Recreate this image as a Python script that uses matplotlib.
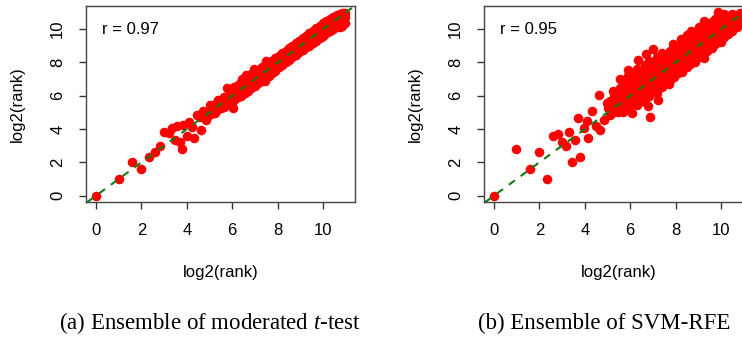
import matplotlib
matplotlib.use("Agg")
import matplotlib.pyplot as plt

plt.rcParams['font.family'] = ['Liberation Sans', 'DejaVu Sans']
plt.rcParams['mathtext.fontset'] = 'custom'
plt.rcParams['mathtext.rm'] = 'Liberation Serif'
plt.rcParams['mathtext.it'] = 'Liberation Serif:italic'

# panel (a): ensemble of moderated t-test, log2 ranks
a_x = [0, 1.0, 1.58, 2.0, 2.32, 2.58, 2.82, 3.0, 3.2, 3.34, 3.58, 3.46, 3.7, 3.81,
       4.0, 4.31, 4.63, 3.84, 4.08, 4.22, 4.46, 4.72, 4.84, 4.57, 5.04, 5.25, 5.37,
       5.63, 5.75, 6.04, 5.89, 6.19, 6.45, 6.63, 6.55, 6.95, 7.14, 7.43, 7.5, 7.73]
a_y = [0, 1.0, 2.0, 1.59, 2.35, 2.6, 3.0, 3.8, 3.76, 4.04, 4.2, 3.36, 3.2, 2.82,
       3.6, 3.46, 3.92, 4.27, 4.4, 4.12, 4.87, 5.07, 4.53, 4.73, 5.47, 4.97, 5.77,
       5.31, 6.48, 5.27, 5.98, 6.28, 6.98, 7.22, 6.48, 7.59, 7.48, 6.88, 8.09, 7.79]
# dense band of panel (a): column x and the y values seen in that column
a_cols = [4.9, 5.05, 5.2, 5.35, 5.5, 5.65, 5.8, 5.95, 6.1, 6.25, 6.4, 6.55, 6.7,
          6.85, 7.0, 7.15, 7.3, 7.45, 7.6, 7.75, 7.9, 8.05, 8.2, 8.35, 8.5, 8.65,
          8.8, 8.95, 9.1, 9.25, 9.4, 9.55, 9.7, 9.85, 10.0, 10.15, 10.3, 10.45,
          10.6, 10.75, 10.85, 10.95]
a_rows = [[4.75, 5.05], [4.9, 5.3], [5.0, 5.45], [5.15, 5.6], [5.25, 5.7],
          [5.4, 5.9], [5.5, 6.0], [5.6, 6.05, 6.35], [5.75, 6.2, 6.5],
          [5.9, 6.3, 6.65], [6.0, 6.45, 6.8], [6.15, 6.6, 7.0], [6.3, 6.75, 7.1],
          [6.45, 6.9, 7.3], [6.6, 7.05, 7.45], [6.75, 7.2, 7.55], [6.9, 7.35, 7.7],
          [7.05, 7.5, 7.85], [7.2, 7.6, 8.0], [7.35, 7.8, 8.1], [7.5, 7.95, 8.25],
          [7.7, 8.1, 8.4], [7.85, 8.25, 8.55], [8.0, 8.4, 8.7], [8.15, 8.55, 8.85],
          [8.3, 8.7, 9.0], [8.45, 8.85, 9.15], [8.6, 9.0, 9.3], [8.75, 9.1, 9.45],
          [8.9, 9.25, 9.6], [9.0, 9.4, 9.75], [9.15, 9.55, 9.9], [9.3, 9.7, 10.05],
          [9.45, 9.85, 10.2], [9.6, 10.0, 10.35], [9.75, 10.1, 10.5],
          [9.9, 10.25, 10.6], [10.0, 10.4, 10.75], [10.1, 10.5, 10.85],
          [10.15, 10.55, 10.9], [10.2, 10.6, 10.95], [10.35, 10.7, 10.95]]

# panel (b): ensemble of SVM-RFE, scattered low ranks
b_x = [0, 0.98, 1.6, 2.0, 2.32, 2.58, 2.8, 2.98, 3.17, 3.3, 3.45, 3.57, 3.8, 3.69,
       3.98, 4.16, 4.3, 4.1, 4.51, 4.68, 4.64, 4.86, 5.0, 5.04, 5.23, 5.37, 5.45,
       5.57, 5.74, 5.89, 5.96, 6.1, 6.26, 6.33, 6.55, 6.62, 6.77, 6.86, 6.7, 6.99,
       7.21, 7.14, 7.36, 7.5, 7.72, 7.87, 8.09, 8.24, 8.68, 8.75, 9.27, 9.27, 9.85,
       10.0, 10.44,
       7.85, 8.0, 8.2, 8.4, 8.6, 8.75, 8.95, 9.15, 9.3, 9.5, 9.7, 9.85, 10.05,
       10.25, 10.4, 10.6, 10.8, 7.3, 7.65, 8.4, 9.0, 9.5, 10.0]
b_y = [0, 2.82, 1.59, 2.6, 1.0, 3.6, 3.7, 3.2, 3.0, 3.82, 2.0, 3.32, 2.35, 4.67,
       4.06, 3.46, 5.07, 4.47, 4.16, 3.96, 6.04, 4.57, 5.57, 5.27, 6.28, 5.41, 5.01,
       6.98, 6.48, 7.55, 5.77, 4.97, 6.38, 8.13, 7.28, 5.77, 5.37, 4.73, 8.49, 8.79,
       5.77, 7.79, 6.78, 8.29, 6.68, 9.09, 7.59, 9.4, 9.9, 8.09, 10.5, 8.29, 11.0,
       9.2, 10.4,
       8.55, 7.8, 8.9, 8.1, 9.1, 8.45, 9.55, 8.9, 9.95, 9.3, 10.35, 9.7, 10.6,
       10.0, 10.65, 10.3, 10.6, 7.0, 7.9, 9.0, 8.4, 9.95, 9.6]
# dense cloud of panel (b)
b_cols = [5.1, 5.3, 5.55, 5.7, 5.9, 6.1, 6.3, 6.45, 6.65, 6.85, 7.0, 7.2, 7.4,
          7.55, 7.75, 7.95, 8.1, 8.3, 8.5, 8.65, 8.85, 9.05, 9.2, 9.4, 9.6, 9.75,
          9.95, 10.15, 10.3, 10.5, 10.7, 10.85, 10.95]
b_rows = [[4.85, 5.35, 5.7], [5.05, 5.5, 6.0], [5.25, 5.65, 6.15, 6.45],
          [5.0, 5.55, 5.95, 6.6], [5.35, 5.8, 6.3, 6.85, 7.2],
          [5.5, 6.0, 6.45, 6.9, 7.35], [5.45, 5.95, 6.35, 6.75, 7.1, 7.6],
          [5.8, 6.2, 6.65, 7.05, 7.5], [5.6, 6.1, 6.5, 6.95, 7.4, 7.85],
          [6.0, 6.45, 6.85, 7.3, 7.7, 8.1], [6.3, 6.7, 7.15, 7.55, 8.0],
          [6.15, 6.6, 7.0, 7.45, 7.85, 8.3], [6.5, 6.95, 7.35, 7.8, 8.2, 8.55],
          [6.8, 7.2, 7.6, 8.0, 8.45], [6.95, 7.4, 7.85, 8.25, 8.7],
          [7.1, 7.55, 8.0, 8.4, 8.8, 9.05], [7.35, 7.75, 8.15, 8.6, 9.0],
          [7.45, 7.9, 8.35, 8.75, 9.2], [7.7, 8.1, 8.55, 8.95, 9.35, 9.65],
          [7.9, 8.3, 8.7, 9.15, 9.5], [8.05, 8.5, 8.9, 9.3, 9.75],
          [8.3, 8.7, 9.1, 9.5, 9.9, 10.15], [8.45, 8.85, 9.3, 9.7, 10.05],
          [8.7, 9.05, 9.45, 9.85, 10.25], [8.85, 9.25, 9.65, 10.05, 10.45],
          [9.1, 9.5, 9.9, 10.25, 10.6], [9.3, 9.65, 10.05, 10.4, 10.75],
          [9.5, 9.9, 10.25, 10.6, 10.9], [9.7, 10.05, 10.4, 10.75],
          [9.9, 10.25, 10.6, 10.9], [10.1, 10.45, 10.8], [10.3, 10.6, 10.95],
          [10.5, 10.8]]

r_values = ["r = 0.97", "r = 0.95"]
captions = ["(a) Ensemble of moderated $t$-test", "(b) Ensemble of SVM-RFE"]
ticks = [0, 2, 4, 6, 8, 10]

for col, rows in zip(a_cols, a_rows):
    for v in rows:
        a_x.append(col)
        a_y.append(v)
for col, rows in zip(b_cols, b_rows):
    for v in rows:
        b_x.append(col)
        b_y.append(v)

W, H = 742, 341
fig = plt.figure(figsize=(W / 100, H / 100), dpi=100)

panels = [(a_x, a_y, 86), (b_x, b_y, 484)]
for i, (xs, ys, left) in enumerate(panels):
    ax = fig.add_axes([left / W, (H - 202) / H, 269 / W, 196 / H])
    ax.plot(xs, ys, 'o', color='#ff0000', ms=6.9, mec='none')
    ax.axline((0, 0), slope=1, color='#127a12', lw=1.5, ls=(0, (3.5, 3.5)))
    ax.set_xlim(-0.44, 11.41)
    ax.set_ylim(-0.38, 11.39)
    ax.set_xticks(ticks)
    ax.set_yticks(ticks)
    ax.tick_params(length=5, width=1, color='#333333', labelsize=12, pad=10)
    for lab in ax.get_yticklabels():
        lab.set_rotation(90)
        lab.set_va('center')
    for s in ax.spines.values():
        s.set_color('#444444')
        s.set_linewidth(1)
    ax.set_xlabel("log2(rank)", fontsize=12)
    ax.set_ylabel("log2(rank)", fontsize=12)
    ax.xaxis.set_label_coords(0.5, (202 - 273) / 196)
    ax.xaxis.label.set_va('center')
    ax.yaxis.set_label_coords(-69 / 269, 0.5)
    ax.yaxis.label.set_va('center')
    ax.text(1.5, 9.97, r_values[i], fontsize=12, ha='center', va='center')

fig.text(210 / W, 1 - 323 / H, captions[0], fontsize=16.5, ha='center', va='center',
         family='Liberation Serif')
fig.text(604 / W, 1 - 323 / H, captions[1], fontsize=16.5, ha='center', va='center',
         family='Liberation Serif')

fig.savefig("out.png", dpi=100)
